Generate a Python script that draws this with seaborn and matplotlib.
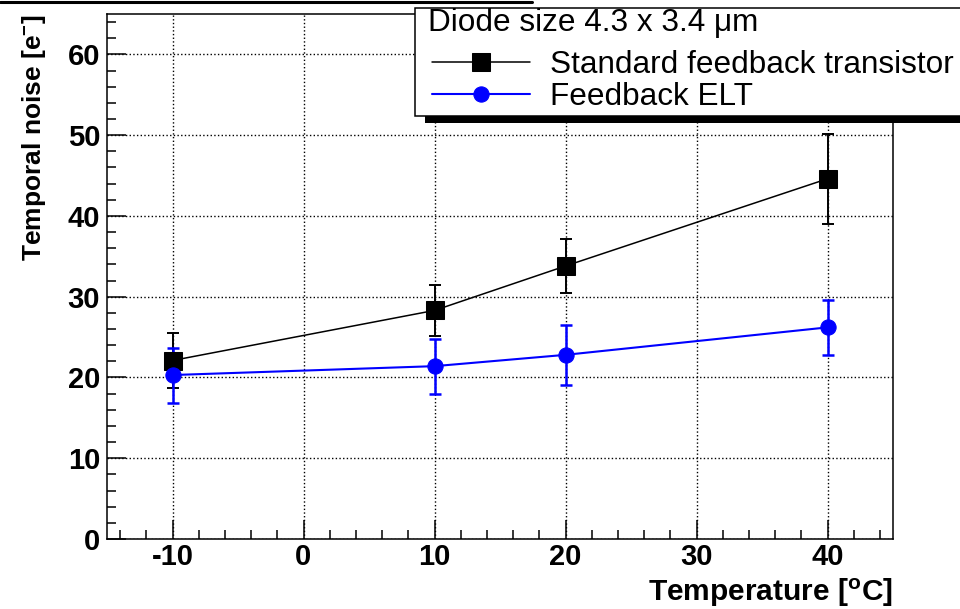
import numpy as np
import pandas as pd
import matplotlib.pyplot as plt
import seaborn as sns
from matplotlib.lines import Line2D
from matplotlib.patches import Rectangle
from matplotlib.ticker import MultipleLocator

# values
temperature = [-10, 10, 20, 40]
noise_standard = [22.1, 28.3, 33.8, 44.6]
err_standard = [3.4, 3.2, 3.35, 5.6]
noise_elt = [20.3, 21.4, 22.8, 26.2]
err_elt = [3.4, 3.4, 3.75, 3.45]
series_names = ["Standard feedback transistor", "Feedback ELT"]
legend_title = "Diode size 4.3 x 3.4 \u03bcm"

W, H = 960, 609


def setup_style():
    sns.set_style("white")
    plt.rcParams['font.family'] = ['Liberation Sans', 'DejaVu Sans']
    plt.rcParams['mathtext.fontset'] = 'custom'
    plt.rcParams['mathtext.rm'] = 'Liberation Sans'
    plt.rcParams['mathtext.bf'] = 'Liberation Sans:bold'
    plt.rcParams['mathtext.default'] = 'regular'
    plt.rcParams['axes.unicode_minus'] = False
    for key in ['text.color', 'axes.labelcolor', 'xtick.color', 'ytick.color',
                'axes.edgecolor']:
        plt.rcParams[key] = 'black'


def main():
    setup_style()
    df = pd.DataFrame({
        'temperature': temperature * 2,
        'noise': noise_standard + noise_elt,
        'err': err_standard + err_elt,
        'series': [series_names[0]] * 4 + [series_names[1]] * 4,
    })
    colors = {series_names[0]: 'black', series_names[1]: 'blue'}
    markers = {series_names[0]: 's', series_names[1]: 'o'}
    msize = {series_names[0]: 13, series_names[1]: 11}
    lwidth = {series_names[0]: 1.1, series_names[1]: 1.5}

    fig = plt.figure(figsize=(W / 100, H / 100), dpi=100)
    ax = fig.add_axes([107 / W, 70 / H, 786 / W, 525 / H])

    for name in series_names:
        sub = df[df['series'] == name]
        ax.errorbar(sub['temperature'], sub['noise'], yerr=sub['err'], fmt='none',
                    ecolor=colors[name], elinewidth=lwidth[name] + 0.3, capsize=4,
                    capthick=lwidth[name] + 0.3, zorder=3)
        sns.lineplot(data=sub, x='temperature', y='noise', ax=ax, color=colors[name],
                     marker=markers[name], markersize=msize[name], linewidth=lwidth[name],
                     markeredgecolor=colors[name], label=name, zorder=4)

    ax.set_xlim(-15, 45)
    ax.set_ylim(0, 65)
    ax.xaxis.set_major_locator(MultipleLocator(10))
    ax.xaxis.set_minor_locator(MultipleLocator(2))
    ax.yaxis.set_major_locator(MultipleLocator(10))
    ax.yaxis.set_minor_locator(MultipleLocator(2))
    ax.tick_params(which='both', direction='in', color='black', width=1.1,
                   top=False, right=False, bottom=True, left=True)
    ax.tick_params(which='major', length=13.5, labelsize=21)
    ax.tick_params(which='minor', length=6.5)
    ax.tick_params(axis='x', which='major', pad=3)
    ax.tick_params(axis='y', which='major', pad=5)
    for lab in ax.get_xticklabels() + ax.get_yticklabels():
        lab.set_fontweight('bold')
    ax.grid(True, which='major', linestyle=':', color='black', linewidth=1.0)
    for sp in ax.spines.values():
        sp.set_color('black')
        sp.set_linewidth(1.1)

    ax.set_xlabel('Temperature [$^{\\mathbf{o}}$C]', fontsize=21.5, fontweight='bold',
                  loc='right', labelpad=4)
    ax.set_ylabel('Temporal noise [e$^{\\mathbf{-}}$]', fontsize=19, fontweight='bold',
                  loc='top', labelpad=14)

    # legend entries; frame, shadow and header are drawn separately (ROOT look)
    leg = ax.legend(loc='upper left', bbox_to_anchor=(432 / W, 1 - 50 / H),
                    bbox_transform=fig.transFigure, fontsize=22.7, frameon=False,
                    handlelength=3.1, handletextpad=0.63, labelspacing=0.05,
                    borderpad=0, borderaxespad=0)
    leg.set_zorder(11)

    box_left, box_top, box_bottom = 415, 8, 116
    frame = Rectangle((box_left / W, 1 - box_bottom / H), (W + 20 - box_left) / W,
                      (box_bottom - box_top) / H, facecolor='white', edgecolor='black',
                      linewidth=1.1, transform=fig.transFigure, clip_on=False, zorder=10)
    shadow = Rectangle(((box_left + 10) / W, 1 - (box_bottom + 7) / H),
                       (W + 20 - box_left) / W, (box_bottom - box_top) / H,
                       facecolor='black', edgecolor='none', transform=fig.transFigure,
                       clip_on=False, zorder=9)
    ax.add_artist(shadow)
    ax.add_artist(frame)
    ax.text(428 / W, 1 - 23 / H, legend_title, fontsize=22.7, ha='left', va='center',
            transform=fig.transFigure, zorder=12)

    # edge of the (cut off) title box at the top left
    fig.add_artist(Line2D([0, 532 / W], [1 - 1.5 / H] * 2, color='black', linewidth=2.2))

    fig.savefig('out.png', dpi=100)
    plt.close(fig)


if __name__ == "__main__":
    main()
